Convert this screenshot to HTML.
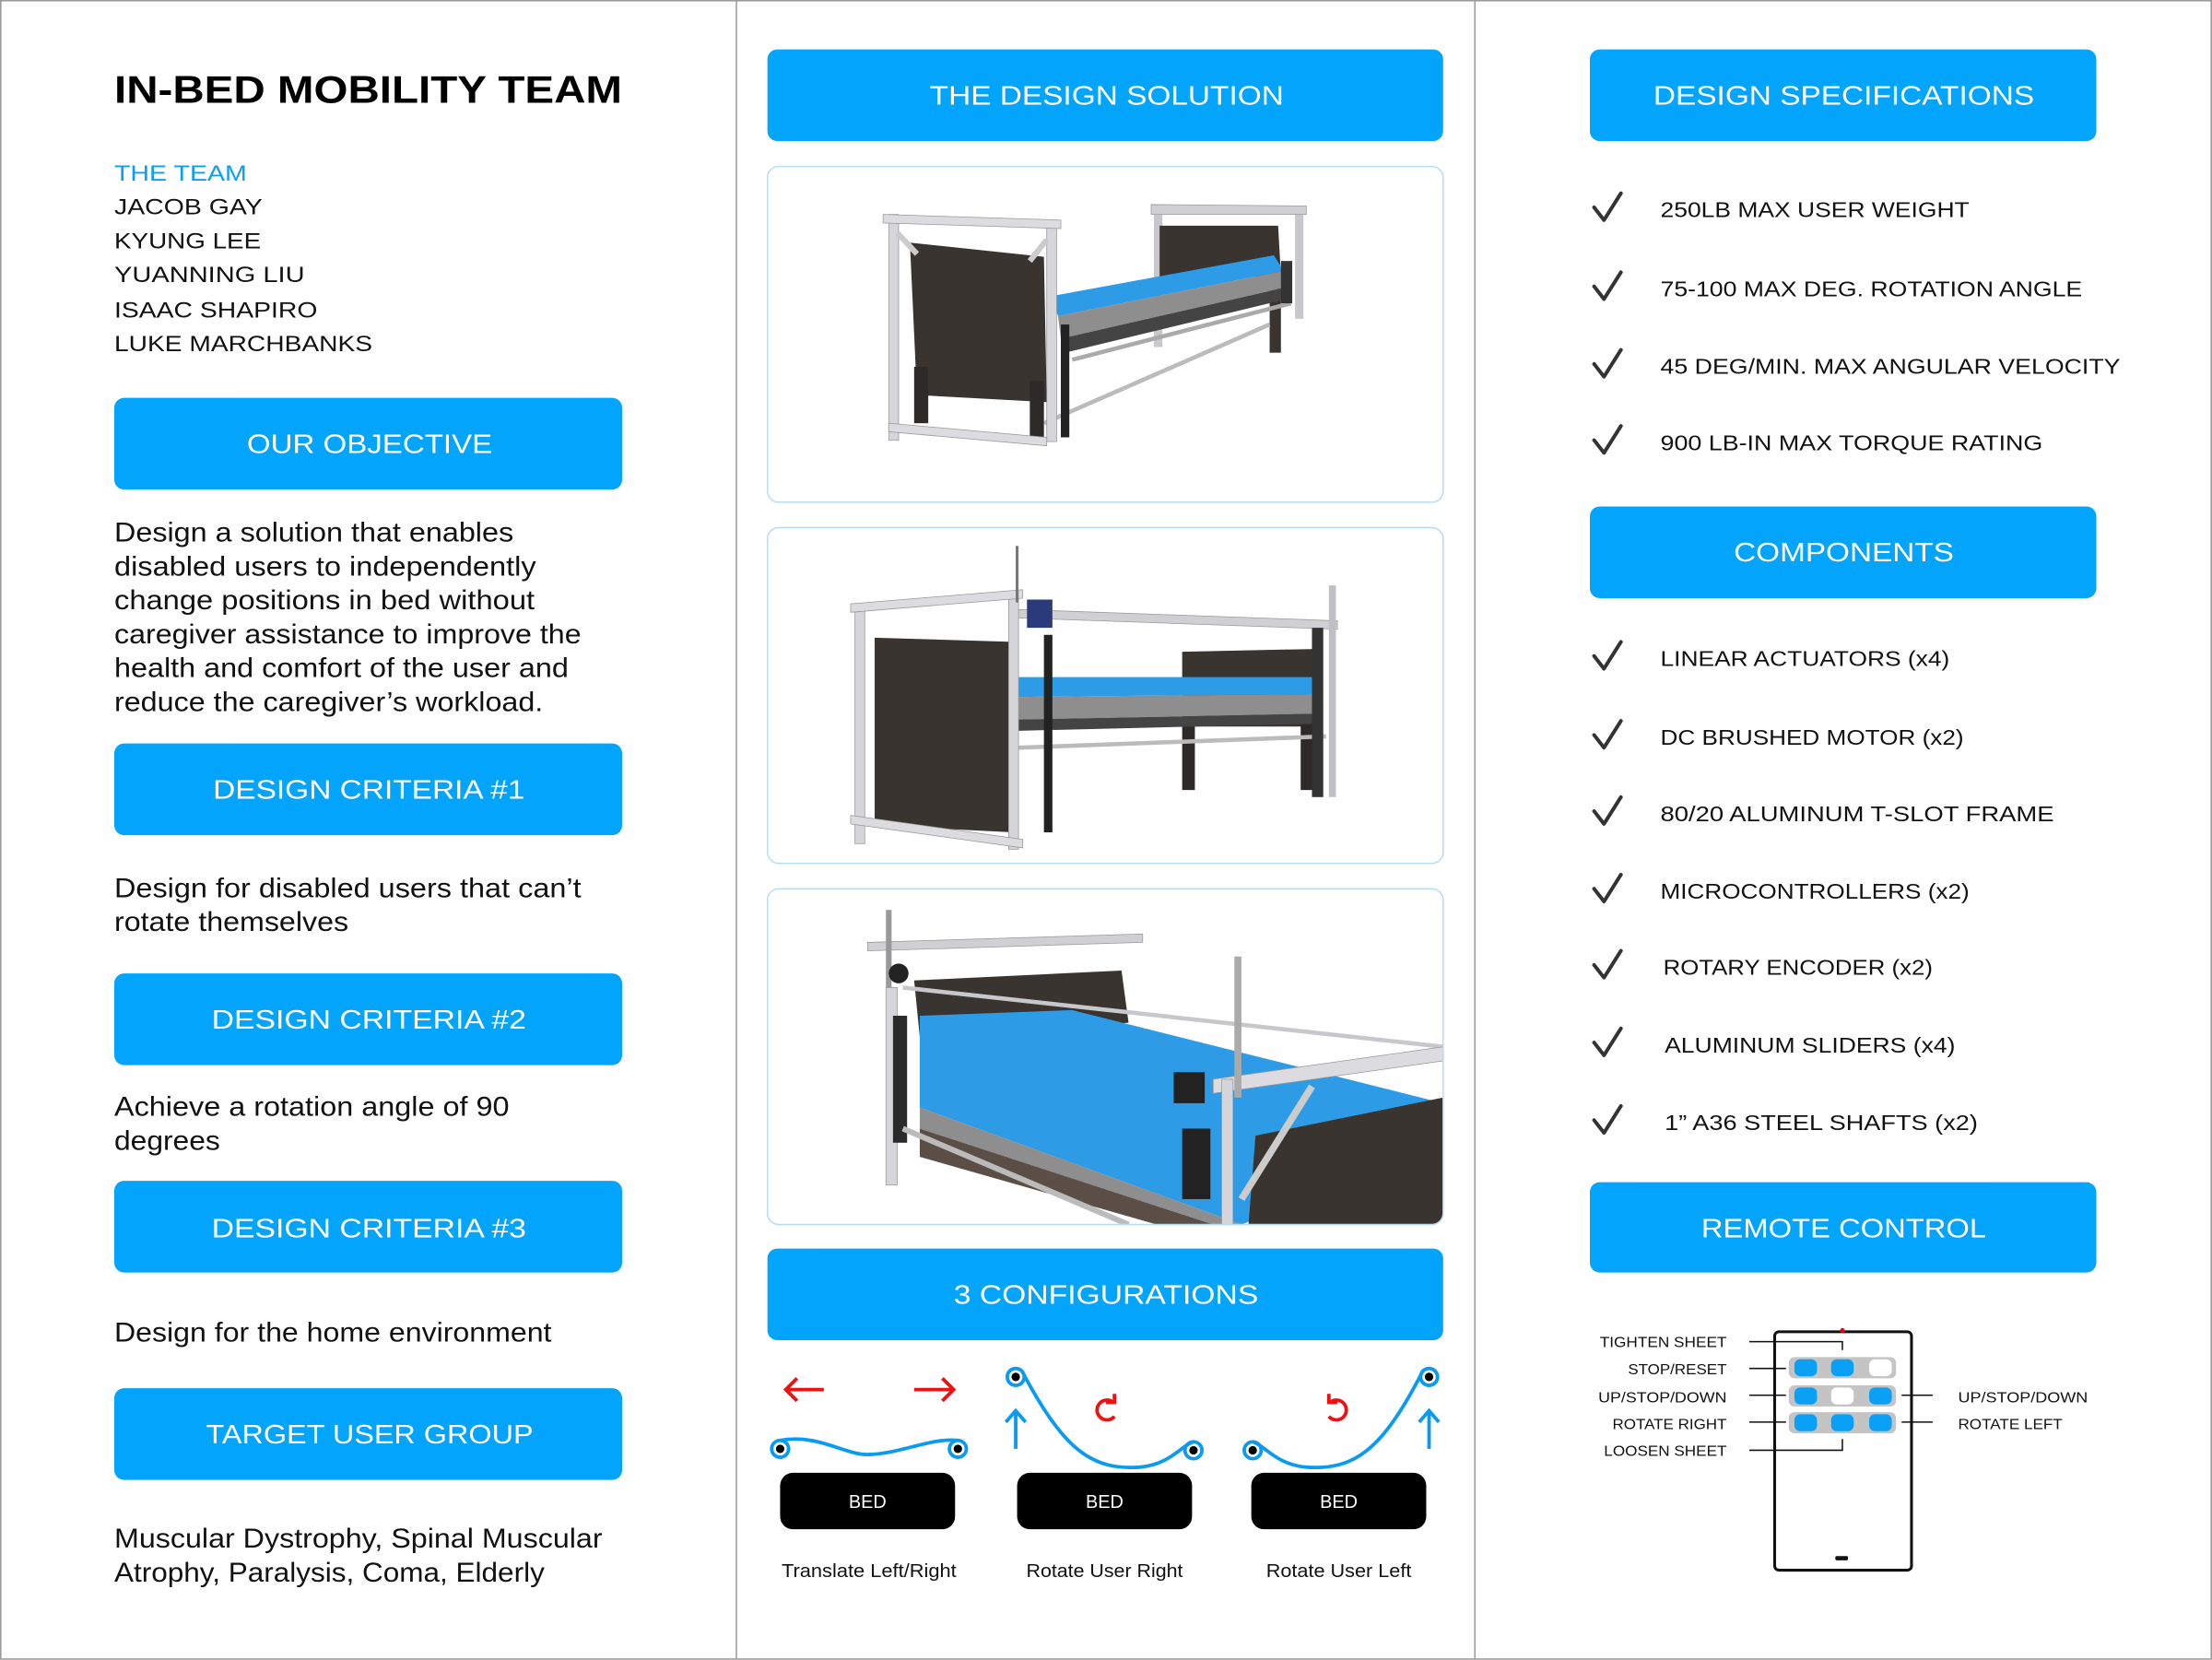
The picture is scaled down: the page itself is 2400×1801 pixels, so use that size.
<!DOCTYPE html>
<html><head><meta charset="utf-8"><style>
html,body{margin:0;padding:0;background:#fff;}
svg{display:block;}
text{font-family:"Liberation Sans",sans-serif;}
</style></head><body>
<svg width="2400" height="1801" viewBox="0 0 1568 1176.67" xmlns="http://www.w3.org/2000/svg">
<defs>
<clipPath id="c1"><rect x="544" y="118" width="479" height="238" rx="8"/></clipPath>
<clipPath id="c2"><rect x="544" y="374" width="479" height="238" rx="8"/></clipPath>
<clipPath id="c3"><rect x="544" y="630" width="479" height="238" rx="8"/></clipPath>
</defs>
<rect x="0" y="0" width="1568" height="1176.67" fill="#fff"/>
<rect x="0.5" y="0.5" width="1567" height="1175.5" fill="none" stroke="#999" stroke-width="1"/>
<line x1="522" y1="0" x2="522" y2="1176" stroke="#999" stroke-width="1"/>
<line x1="1045.5" y1="0" x2="1045.5" y2="1176" stroke="#999" stroke-width="1"/>

<!-- LEFT COLUMN -->
<text x="81" y="73" font-size="27" font-weight="bold" textLength="360" lengthAdjust="spacingAndGlyphs" fill="#000">IN-BED MOBILITY TEAM</text>
<g font-size="15.5" fill="#111">
<text x="81" y="128" fill="#0aa0f0" textLength="94" lengthAdjust="spacingAndGlyphs">THE TEAM</text>
<text x="81" y="152" textLength="105" lengthAdjust="spacingAndGlyphs">JACOB GAY</text>
<text x="81" y="176" textLength="104" lengthAdjust="spacingAndGlyphs">KYUNG LEE</text>
<text x="81" y="200" textLength="135" lengthAdjust="spacingAndGlyphs">YUANNING LIU</text>
<text x="81" y="225" textLength="144" lengthAdjust="spacingAndGlyphs">ISAAC SHAPIRO</text>
<text x="81" y="249" textLength="183" lengthAdjust="spacingAndGlyphs">LUKE MARCHBANKS</text>
</g>
<g fill="#03a4fc">
<rect x="81" y="282" width="360" height="65" rx="7"/>
<rect x="81" y="527" width="360" height="65" rx="7"/>
<rect x="81" y="690" width="360" height="65" rx="7"/>
<rect x="81" y="837" width="360" height="65" rx="7"/>
<rect x="81" y="984" width="360" height="65" rx="7"/>
<rect x="544" y="35" width="479" height="65" rx="7"/>
<rect x="544" y="885" width="479" height="65" rx="7"/>
<rect x="1127" y="35" width="359" height="65" rx="7"/>
<rect x="1127" y="359" width="359" height="65" rx="7"/>
<rect x="1127" y="838" width="359" height="64" rx="7"/>
</g>
<g font-size="19" fill="#fff" text-anchor="middle">
<text x="262" y="321" textLength="174" lengthAdjust="spacingAndGlyphs">OUR OBJECTIVE</text>
<text x="261.5" y="566" textLength="221" lengthAdjust="spacingAndGlyphs">DESIGN CRITERIA #1</text>
<text x="261.5" y="729" textLength="223" lengthAdjust="spacingAndGlyphs">DESIGN CRITERIA #2</text>
<text x="261.5" y="877" textLength="223" lengthAdjust="spacingAndGlyphs">DESIGN CRITERIA #3</text>
<text x="262" y="1023" textLength="232" lengthAdjust="spacingAndGlyphs">TARGET USER GROUP</text>
<text x="784.5" y="74" textLength="251" lengthAdjust="spacingAndGlyphs">THE DESIGN SOLUTION</text>
<text x="784" y="924" textLength="216" lengthAdjust="spacingAndGlyphs">3 CONFIGURATIONS</text>
<text x="1307" y="74" textLength="270" lengthAdjust="spacingAndGlyphs">DESIGN SPECIFICATIONS</text>
<text x="1307" y="398" textLength="156" lengthAdjust="spacingAndGlyphs">COMPONENTS</text>
<text x="1307" y="877" textLength="202" lengthAdjust="spacingAndGlyphs">REMOTE CONTROL</text>
</g>
<g font-size="19.5" fill="#111">
<text x="81" y="384" textLength="283" lengthAdjust="spacingAndGlyphs">Design a solution that enables</text>
<text x="81" y="408" textLength="299" lengthAdjust="spacingAndGlyphs">disabled users to independently</text>
<text x="81" y="432" textLength="298" lengthAdjust="spacingAndGlyphs">change positions in bed without</text>
<text x="81" y="456" textLength="331" lengthAdjust="spacingAndGlyphs">caregiver assistance to improve the</text>
<text x="81" y="480" textLength="322" lengthAdjust="spacingAndGlyphs">health and comfort of the user and</text>
<text x="81" y="504" textLength="304" lengthAdjust="spacingAndGlyphs">reduce the caregiver’s workload.</text>
<text x="81" y="636" textLength="331" lengthAdjust="spacingAndGlyphs">Design for disabled users that can’t</text>
<text x="81" y="660" textLength="166" lengthAdjust="spacingAndGlyphs">rotate themselves</text>
<text x="81" y="791" textLength="280" lengthAdjust="spacingAndGlyphs">Achieve a rotation angle of 90</text>
<text x="81" y="815" textLength="75" lengthAdjust="spacingAndGlyphs">degrees</text>
<text x="81" y="951" textLength="310" lengthAdjust="spacingAndGlyphs">Design for the home environment</text>
<text x="81" y="1097" textLength="346" lengthAdjust="spacingAndGlyphs">Muscular Dystrophy, Spinal Muscular</text>
<text x="81" y="1121" textLength="305" lengthAdjust="spacingAndGlyphs">Atrophy, Paralysis, Coma, Elderly</text>
</g>

<!-- MIDDLE IMAGES -->
<g clip-path="url(#c1)">
<rect x="544" y="118" width="479" height="238" fill="#fff"/>
<!-- back right frame -->
<rect x="818" y="146" width="6" height="100" fill="#c8c8cc"/>
<rect x="918" y="146" width="6" height="80" fill="#c8c8cc"/>
<polygon points="816,145 926,146 926,152 816,152" fill="#d0d0d4" stroke="#999" stroke-width="0.5"/>
<polygon points="822,160 906,160 908,195 822,200" fill="#3a3430"/>
<rect x="900" y="195" width="8" height="55" fill="#3a3430"/>
<!-- mattress -->
<polygon points="745,210 903,181 910,192 750,224" fill="#2d9be6"/>
<polygon points="750,224 910,192 910,204 752,240" fill="#8e8e8e"/>
<polygon points="752,240 910,204 912,212 755,250" fill="#444"/>
<!-- rails -->
<line x1="760" y1="255" x2="915" y2="215" stroke="#aaa" stroke-width="3"/>
<line x1="740" y1="300" x2="900" y2="230" stroke="#bbb" stroke-width="3"/>
<!-- left headboard -->
<polygon points="645,172 740,182 742,285 650,280" fill="#3a3430"/>
<rect x="648" y="260" width="10" height="40" fill="#2e2a27"/>
<rect x="730" y="270" width="10" height="40" fill="#2e2a27"/>
<!-- left frame -->
<rect x="630" y="152" width="7" height="160" fill="#d6d6da" stroke="#999" stroke-width="0.5"/>
<rect x="742" y="158" width="7" height="155" fill="#d6d6da" stroke="#999" stroke-width="0.5"/>
<polygon points="626,152 752,156 752,162 626,158" fill="#dcdce0" stroke="#999" stroke-width="0.5"/>
<polygon points="630,300 742,310 742,316 630,306" fill="#dcdce0" stroke="#999" stroke-width="0.5"/>
<line x1="636" y1="165" x2="650" y2="180" stroke="#ccc" stroke-width="4"/>
<line x1="742" y1="170" x2="730" y2="185" stroke="#ccc" stroke-width="4"/>
<rect x="752" y="230" width="6" height="80" fill="#222"/>
<rect x="908" y="185" width="8" height="30" fill="#333"/>
</g>
<rect x="544" y="118" width="479" height="238" rx="8" fill="none" stroke="#b8dcf2" stroke-width="1"/>

<g clip-path="url(#c2)">
<rect x="544" y="374" width="479" height="238" fill="#fff"/>
<polygon points="722,432 948,440 948,446 722,438" fill="#d0d0d4" stroke="#999" stroke-width="0.5"/>
<rect x="942" y="415" width="5" height="150" fill="#c0c0c4"/>
<polygon points="838,462 932,460 932,515 838,515" fill="#3a3430"/>
<rect x="838" y="510" width="9" height="50" fill="#2e2a27"/>
<rect x="922" y="510" width="9" height="50" fill="#2e2a27"/>
<polygon points="722,480 932,480 932,492 722,494" fill="#2d9be6"/>
<polygon points="722,494 932,492 932,506 722,510" fill="#8e8e8e"/>
<polygon points="722,510 932,506 932,513 722,518" fill="#444"/>
<line x1="722" y1="530" x2="940" y2="522" stroke="#bbb" stroke-width="3"/>
<polygon points="620,452 718,455 718,590 620,585" fill="#3a3430"/>
<rect x="606" y="428" width="7" height="170" fill="#d6d6da" stroke="#999" stroke-width="0.5"/>
<rect x="715" y="420" width="7" height="182" fill="#d6d6da" stroke="#999" stroke-width="0.5"/>
<polygon points="603,428 725,418 725,424 603,434" fill="#dcdce0" stroke="#999" stroke-width="0.5"/>
<polygon points="603,578 725,595 725,601 603,584" fill="#dcdce0" stroke="#999" stroke-width="0.5"/>
<rect x="720" y="387" width="2" height="40" fill="#777"/>
<rect x="728" y="425" width="18" height="20" fill="#2a3a7a"/>
<rect x="740" y="450" width="6" height="140" fill="#222"/>
<rect x="930" y="445" width="8" height="120" fill="#333"/>
</g>
<rect x="544" y="374" width="479" height="238" rx="8" fill="none" stroke="#b8dcf2" stroke-width="1"/>

<g clip-path="url(#c3)">
<rect x="544" y="630" width="479" height="238" fill="#fff"/>
<polygon points="615,668 810,662 810,668 615,674" fill="#d0d0d4" stroke="#999" stroke-width="0.5"/>
<polygon points="648,695 795,688 800,725 652,735" fill="#3a3430"/>
<polygon points="652,720 760,716 1023,782 1023,812 880,868 652,785" fill="#2d9be6"/>
<polygon points="652,785 880,868 860,868 652,800" fill="#8e8e8e"/>
<polygon points="652,800 860,868 820,868 652,820" fill="#5a4e46"/>
<polygon points="890,805 1023,778 1023,868 885,868" fill="#3a3430"/>
<line x1="640" y1="700" x2="1023" y2="742" stroke="#c8c8cc" stroke-width="3"/>
<polygon points="860,765 1023,742 1023,752 860,775" fill="#dcdce0" stroke="#999" stroke-width="0.5"/>
<line x1="930" y1="770" x2="880" y2="850" stroke="#ccc" stroke-width="5"/>
<rect x="866" y="765" width="8" height="103" fill="#d6d6da" stroke="#999" stroke-width="0.5"/>
<rect x="875" y="678" width="5" height="100" fill="#aaa"/>
<rect x="628" y="645" width="4" height="60" fill="#999"/>
<rect x="628" y="700" width="8" height="140" fill="#d6d6da" stroke="#999" stroke-width="0.5"/>
<rect x="633" y="720" width="10" height="90" fill="#2a2a2a"/>
<line x1="640" y1="800" x2="800" y2="868" stroke="#bbb" stroke-width="4"/>
<rect x="832" y="760" width="22" height="22" fill="#222"/>
<rect x="838" y="800" width="20" height="50" fill="#222"/>
<circle cx="637" cy="690" r="7" fill="#222"/>
</g>
<rect x="544" y="630" width="479" height="238" rx="8" fill="none" stroke="#b8dcf2" stroke-width="1"/>

<!-- CONFIGURATIONS -->
<g fill="none" stroke="#0a9bf0" stroke-width="2.5">
<path d="M553,1021 C580,1016 600,1032 616,1031 C640,1030 660,1019 679,1021"/>
<path d="M724,971 C755,1030 775,1042 808,1040 C830,1038 838,1024 846,1022"/>
<path d="M888,1022 C896,1024 904,1038 926,1040 C959,1042 979,1030 1009,971"/>
<line x1="720" y1="1027" x2="720" y2="1000"/><polyline points="713,1008 720,1000 727,1008"/>
<line x1="1013" y1="1027" x2="1013" y2="1000"/><polyline points="1006,1008 1013,1000 1020,1008"/>
<circle cx="553" cy="1027" r="6"/><circle cx="679" cy="1027" r="6"/>
<circle cx="720" cy="976" r="6"/><circle cx="846" cy="1028" r="6"/>
<circle cx="888" cy="1028" r="6"/><circle cx="1013" cy="976" r="6"/>
</g>
<g fill="#000">
<circle cx="553" cy="1027" r="3"/><circle cx="679" cy="1027" r="3"/>
<circle cx="720" cy="976" r="3"/><circle cx="846" cy="1028" r="3"/>
<circle cx="888" cy="1028" r="3"/><circle cx="1013" cy="976" r="3"/>
</g>
<g fill="none" stroke="#ee1111" stroke-width="2.5">
<line x1="557" y1="985" x2="584" y2="985"/><polyline points="565,977 557,985 565,993"/>
<line x1="648" y1="985" x2="676" y2="985"/><polyline points="668,977 676,985 668,993"/>
<path d="M789,994 A7,7 0 1 0 790,1004"/><polyline points="784,994 790,994 790,988"/>
<path d="M943,994 A7,7 0 1 1 942,1004"/><polyline points="948,994 942,994 942,988"/>
</g>
<g fill="#000">
<rect x="553" y="1044" width="124" height="40" rx="9"/>
<rect x="721" y="1044" width="124" height="40" rx="9"/>
<rect x="887" y="1044" width="124" height="40" rx="9"/>
</g>
<g font-size="13" fill="#fff" text-anchor="middle">
<text x="615" y="1069">BED</text><text x="783" y="1069">BED</text><text x="949" y="1069">BED</text>
</g>
<g font-size="13" fill="#111" text-anchor="middle">
<text x="616" y="1118" textLength="124" lengthAdjust="spacingAndGlyphs">Translate Left/Right</text>
<text x="783" y="1118" textLength="111" lengthAdjust="spacingAndGlyphs">Rotate User Right</text>
<text x="949" y="1118" textLength="103" lengthAdjust="spacingAndGlyphs">Rotate User Left</text>
</g>

<!-- RIGHT COLUMN -->
<g fill="none" stroke="#333" stroke-width="2.6" stroke-linecap="round" stroke-linejoin="round">
<polyline points="1130,147 1137,156 1149,137"/>
<polyline points="1130,203 1137,212 1149,193"/>
<polyline points="1130,258 1137,267 1149,248"/>
<polyline points="1130,312 1137,321 1149,302"/>
<polyline points="1130,465 1137,474 1149,455"/>
<polyline points="1130,521 1137,530 1149,511"/>
<polyline points="1130,575 1137,584 1149,565"/>
<polyline points="1130,630 1137,639 1149,620"/>
<polyline points="1130,684 1137,693 1149,674"/>
<polyline points="1130,739 1137,748 1149,729"/>
<polyline points="1130,794 1137,803 1149,784"/>
</g>
<g font-size="15" fill="#111">
<text x="1177" y="154" textLength="219" lengthAdjust="spacingAndGlyphs">250LB MAX USER WEIGHT</text>
<text x="1177" y="210" textLength="299" lengthAdjust="spacingAndGlyphs">75-100 MAX DEG. ROTATION ANGLE</text>
<text x="1177" y="265" textLength="326" lengthAdjust="spacingAndGlyphs">45 DEG/MIN. MAX ANGULAR VELOCITY</text>
<text x="1177" y="319" textLength="271" lengthAdjust="spacingAndGlyphs">900 LB-IN MAX TORQUE RATING</text>
<text x="1177" y="472" textLength="205" lengthAdjust="spacingAndGlyphs">LINEAR ACTUATORS (x4)</text>
<text x="1177" y="528" textLength="215" lengthAdjust="spacingAndGlyphs">DC BRUSHED MOTOR (x2)</text>
<text x="1177" y="582" textLength="279" lengthAdjust="spacingAndGlyphs">80/20 ALUMINUM T-SLOT FRAME</text>
<text x="1177" y="637" textLength="219" lengthAdjust="spacingAndGlyphs">MICROCONTROLLERS (x2)</text>
<text x="1179" y="691" textLength="191" lengthAdjust="spacingAndGlyphs">ROTARY ENCODER (x2)</text>
<text x="1180" y="746" textLength="206" lengthAdjust="spacingAndGlyphs">ALUMINUM SLIDERS (x4)</text>
<text x="1180" y="801" textLength="222" lengthAdjust="spacingAndGlyphs">1” A36 STEEL SHAFTS (x2)</text>
</g>

<!-- REMOTE -->
<rect x="1258" y="944" width="97" height="169" rx="3" fill="none" stroke="#111" stroke-width="2"/>
<circle cx="1306" cy="943" r="1.6" fill="#e00"/>
<rect x="1301" y="1103" width="9" height="3" rx="1" fill="#111"/>
<g fill="#c4c4c4">
<rect x="1268" y="962" width="76" height="15" rx="4"/>
<rect x="1268" y="982" width="76" height="15" rx="4"/>
<rect x="1268" y="1001" width="76" height="15" rx="4"/>
</g>
<g fill="#0aa0f5">
<rect x="1272" y="963.5" width="16" height="12" rx="4"/>
<rect x="1298" y="963.5" width="16" height="12" rx="4"/>
<rect x="1272" y="983.5" width="16" height="12" rx="4"/>
<rect x="1325" y="983.5" width="16" height="12" rx="4"/>
<rect x="1272" y="1002.5" width="16" height="12" rx="4"/>
<rect x="1298" y="1002.5" width="16" height="12" rx="4"/>
<rect x="1325" y="1002.5" width="16" height="12" rx="4"/>
</g>
<g fill="#fff">
<rect x="1325" y="963.5" width="16" height="12" rx="4"/>
<rect x="1298" y="983.5" width="16" height="12" rx="4"/>
</g>
<g fill="none" stroke="#111" stroke-width="1">
<polyline points="1240,951 1306,951 1306,957"/>
<line x1="1240" y1="970" x2="1266" y2="970"/>
<line x1="1240" y1="989" x2="1266" y2="989"/>
<line x1="1240" y1="1008" x2="1266" y2="1008"/>
<polyline points="1240,1028 1306,1028 1306,1020"/>
<line x1="1348" y1="989" x2="1370" y2="989"/>
<line x1="1348" y1="1008" x2="1370" y2="1008"/>
</g>
<g font-size="10.5" fill="#111">
<text x="1134" y="955" textLength="90" lengthAdjust="spacingAndGlyphs">TIGHTEN SHEET</text>
<text x="1154" y="974" textLength="70" lengthAdjust="spacingAndGlyphs">STOP/RESET</text>
<text x="1133" y="994" textLength="91" lengthAdjust="spacingAndGlyphs">UP/STOP/DOWN</text>
<text x="1143" y="1013" textLength="81" lengthAdjust="spacingAndGlyphs">ROTATE RIGHT</text>
<text x="1137" y="1032" textLength="87" lengthAdjust="spacingAndGlyphs">LOOSEN SHEET</text>
<text x="1388" y="994" textLength="92" lengthAdjust="spacingAndGlyphs">UP/STOP/DOWN</text>
<text x="1388" y="1013" textLength="74" lengthAdjust="spacingAndGlyphs">ROTATE LEFT</text>
</g>
</svg>
</body></html>
